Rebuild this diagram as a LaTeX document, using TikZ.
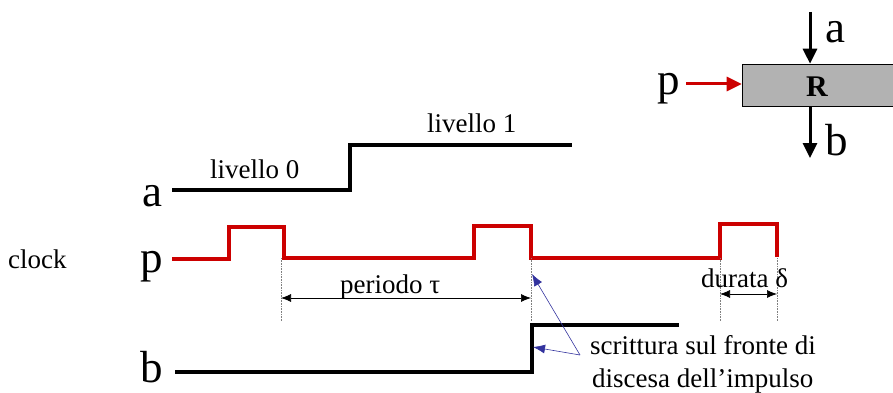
\documentclass[tikz,border=0pt]{standalone}
\usepackage{fontspec}
\setmainfont{Liberation Serif}
\usetikzlibrary{arrows.meta}
\definecolor{sigred}{rgb}{0.80,0.0,0.0}
\definecolor{noteblue}{rgb}{0.20,0.20,0.62}
\definecolor{boxgray}{rgb}{0.70,0.70,0.70}

\begin{document}
\begin{tikzpicture}[x=1pt,y=-1pt,
  lbl/.style={font=\fontsize{27}{30}\selectfont,inner sep=0pt,anchor=base west},
  sig/.style={font=\fontsize{45}{48}\selectfont,inner sep=0pt,anchor=base west},
  wave/.style={line width=4pt,line join=miter},
  redwave/.style={wave,sigred,line width=3.6pt},
  tickline/.style={densely dotted,gray,line width=0.6pt},
  dim/.style={line width=0.7pt,{Latex[length=10pt,width=8pt]}-{Latex[length=10pt,width=8pt]}},
  note/.style={noteblue,line width=0.6pt,-{Latex[length=12pt,width=9pt]}},
  port/.style={line width=3pt,-{Triangle[length=15pt,width=14pt]}}]
\useasboundingbox (0,0) rectangle (893,393);
\clip (0,0) rectangle (893,393);
%
% register block
\node (R) at (819,85) [draw,fill=boxgray,line width=0.6pt,minimum width=154pt,minimum height=42pt,inner sep=0pt] {};
\node (Rl) at (806,97) [lbl,font=\fontsize{30}{33}\selectfont\bfseries] {R};
\coordinate (ain) at (810,12);
\coordinate (bout) at (810,158);
\coordinate (pin) at (686,84);
\draw[port] (ain) -- (ain |- R.north);
\draw[port] (R.south -| bout) -- (bout);
\draw[port,sigred] (pin) -- (pin -| R.west);
\node (ra) at (825,43) [sig] {a};
\node (rb) at (825,155) [sig] {b};
\node (rp) at (657,95) [sig] {p};
%
% signal a
\node (na) at (142,206) [sig] {a};
\draw[wave] (172,190) -- (350,190) -- (350,145) -- (572,145);
\node (l0) at (210,178) [lbl] {livello 0};
\node (l1) at (427,132) [lbl] {livello 1};
%
% clock p
\node (clk) at (8,268) [lbl] {clock};
\node (np) at (140,272) [sig] {p};
\draw[redwave] (172,259) -- (229,259) -- (229,227) -- (284,227) -- (284,258) -- (474,258)
  -- (474,226) -- (531,226) -- (531,258) -- (720,258) -- (720,224) -- (777,224) -- (777,257);
%
% ticks
\coordinate (t1) at (281,258);
\coordinate (t2) at (531,258);
\coordinate (t3) at (720,258);
\coordinate (t4) at (777,258);
\foreach \t in {t1,t2,t3,t4}
  \draw[tickline] (\t) -- ++(0,63);
\draw[dim] (281,298) -- (531,298);
\node (per) at (340,293) [lbl] {periodo τ};
\draw[dim] (720,294) -- (777,294);
\node (dur) at (701,287) [lbl] {durata δ};
%
% signal b
\node (nb) at (140,382) [sig] {b};
\draw[wave] (175,372) -- (532,372) -- (532,325) -- (679,325);
%
% note
\coordinate (nt) at (580,355);
\draw[note] (nt) -- (532,274);
\draw[note] (nt) -- (533,347);
\node (n1) at (590,354) [lbl] {scrittura sul fronte di};
\node (n2) at (592,387) [lbl] {discesa dell’impulso};
%
\end{tikzpicture}
\end{document}
